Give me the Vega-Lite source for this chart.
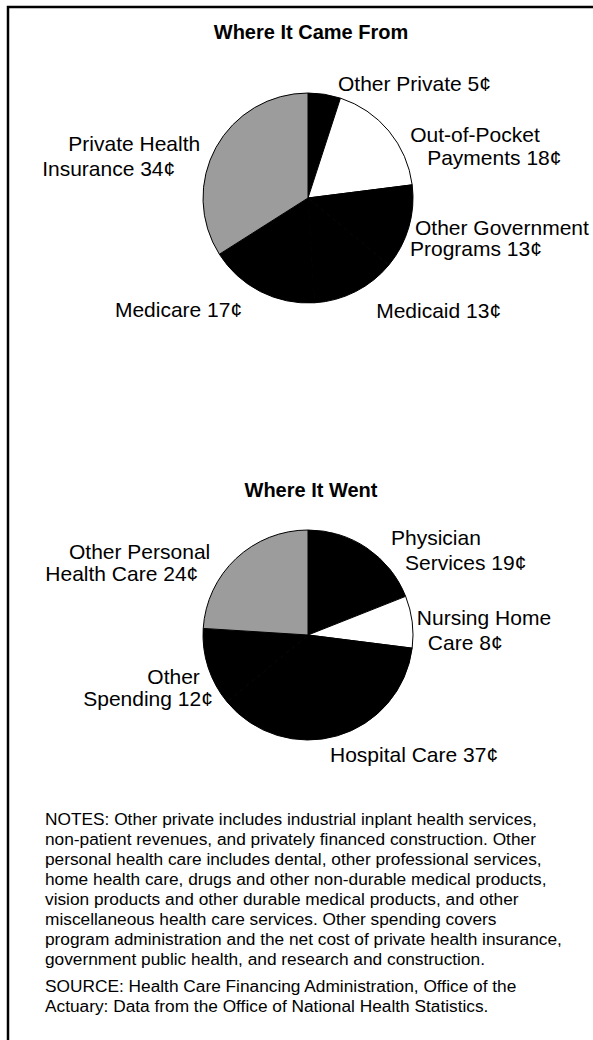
{
  "$schema": "https://vega.github.io/schema/vega-lite/v6.json",
  "width": 593,
  "height": 1040,
  "autosize": {"type": "fit", "contains": "padding"},
  "padding": {"left": 8, "top": 7, "right": -15, "bottom": -15},
  "background": "white",
  "config": {
    "view": {"stroke": "black", "strokeWidth": 2.5},
    "font": "Liberation Sans",
    "text": {"font": "Liberation Sans", "color": "black", "fontSize": 21, "baseline": "middle"}
  },
  "title": {
    "text": [
      "NOTES: Other private includes industrial inplant health services,",
      "non-patient revenues, and privately financed construction. Other",
      "personal health care includes dental, other professional services,",
      "home health care, drugs and other non-durable medical products,",
      "vision products and other durable medical products, and other",
      "miscellaneous health care services. Other spending covers",
      "program administration and the net cost of private health insurance,",
      "government public health, and research and construction."
    ],
    "subtitle": [
      "SOURCE: Health Care Financing Administration, Office of the",
      "Actuary: Data from the Office of National Health Statistics."
    ],
    "orient": "bottom",
    "anchor": "start",
    "frame": "group",
    "align": "left",
    "baseline": "top",
    "dx": 37,
    "offset": -244,
    "font": "Liberation Sans",
    "fontSize": 17.3,
    "fontWeight": "normal",
    "color": "black",
    "lineHeight": 20,
    "subtitleFont": "Liberation Sans",
    "subtitleFontSize": 17.3,
    "subtitleColor": "black",
    "subtitleLineHeight": 20,
    "subtitlePadding": 10
  },
  "datasets": {
    "segments": [
      {"pie": "from", "seq": 1, "seg": "Other Private", "cents": 5, "label1": "Other Private 5¢", "label2": ""},
      {"pie": "from", "seq": 2, "seg": "Out-of-Pocket Payments", "cents": 18, "label1": "Out-of-Pocket", "label2": "Payments 18¢"},
      {"pie": "from", "seq": 3, "seg": "Other Government Programs", "cents": 13, "label1": "Other Government", "label2": "Programs 13¢"},
      {"pie": "from", "seq": 4, "seg": "Medicaid", "cents": 13, "label1": "Medicaid 13¢", "label2": ""},
      {"pie": "from", "seq": 5, "seg": "Medicare", "cents": 17, "label1": "Medicare 17¢", "label2": ""},
      {"pie": "from", "seq": 6, "seg": "Private Health Insurance", "cents": 34, "label1": "Private Health", "label2": "Insurance 34¢"},
      {"pie": "went", "seq": 1, "seg": "Physician Services", "cents": 19, "label1": "Physician", "label2": "Services 19¢"},
      {"pie": "went", "seq": 2, "seg": "Nursing Home Care", "cents": 8, "label1": "Nursing Home", "label2": "Care 8¢"},
      {"pie": "went", "seq": 3, "seg": "Hospital Care", "cents": 37, "label1": "Hospital Care 37¢", "label2": ""},
      {"pie": "went", "seq": 4, "seg": "Other Spending", "cents": 12, "label1": "Other", "label2": "Spending 12¢"},
      {"pie": "went", "seq": 5, "seg": "Other Personal Health Care", "cents": 24, "label1": "Other Personal", "label2": "Health Care 24¢"}
    ],
    "headings": [
      {"pie": "from", "heading": "Where It Came From"},
      {"pie": "went", "heading": "Where It Went"}
    ]
  },
  "data": {"name": "segments"},
  "transform": [
    {"stack": "cents", "groupby": ["pie"], "sort": [{"field": "seq", "order": "ascending"}], "as": ["c0", "c1"]}
  ],
  "encoding": {
    "y": {"field": "pie", "type": "nominal", "scale": {"type": "point", "domain": ["from", "went"], "range": [191, 628], "padding": 0}, "axis": null}
  },
  "layer": [
    {
      "mark": {"type": "arc", "outerRadius": 105, "stroke": "black", "strokeWidth": 1},
      "encoding": {
        "theta": {"field": "c0", "type": "quantitative", "scale": {"domain": [0, 100]}},
        "theta2": {"field": "c1"},
        "fill": {
          "field": "seg", "type": "nominal", "legend": null,
          "scale": {
            "domain": ["Other Private", "Out-of-Pocket Payments", "Other Government Programs", "Medicaid", "Medicare", "Private Health Insurance", "Physician Services", "Nursing Home Care", "Hospital Care", "Other Spending", "Other Personal Health Care"],
            "range": ["#000000", "#ffffff", "#000000", "#000000", "#000000", "#9c9c9c", "#000000", "#ffffff", "#000000", "#000000", "#9c9c9c"]
          }
        }
      }
    },
    {
      "data": {"name": "headings"},
      "transform": [{"filter": "datum.pie === 'from'"}],
      "mark": {"type": "text", "fontSize": 20, "fontWeight": "bold", "align": "center", "baseline": "middle", "dx": 3, "dy": -165.5},
      "encoding": {"text": {"field": "heading", "type": "nominal"}}
    },
    {
      "data": {"name": "headings"},
      "transform": [{"filter": "datum.pie === 'went'"}],
      "mark": {"type": "text", "fontSize": 20, "fontWeight": "bold", "align": "center", "baseline": "middle", "dx": 3, "dy": -144},
      "encoding": {"text": {"field": "heading", "type": "nominal"}}
    },
    {
      "transform": [{"filter": "datum.seg === 'Other Private'"}],
      "mark": {"type": "text", "radius": 130, "align": "left", "dx": 30, "dy": 17},
      "encoding": {"theta": {"field": "c0", "type": "quantitative", "scale": {"domain": [0, 100]}}, "text": {"field": "label1", "type": "nominal"}}
    },
    {
      "transform": [{"filter": "datum.seg === 'Out-of-Pocket Payments'"}],
      "mark": {"type": "text", "radius": 130, "align": "left", "dx": 62, "dy": 62},
      "encoding": {"theta": {"field": "c0", "type": "quantitative", "scale": {"domain": [0, 100]}}, "text": {"field": "label1", "type": "nominal"}}
    },
    {
      "transform": [{"filter": "datum.seg === 'Out-of-Pocket Payments'"}],
      "mark": {"type": "text", "radius": 130, "align": "left", "dx": 79, "dy": 85},
      "encoding": {"theta": {"field": "c0", "type": "quantitative", "scale": {"domain": [0, 100]}}, "text": {"field": "label2", "type": "nominal"}}
    },
    {
      "transform": [{"filter": "datum.seg === 'Other Government Programs'"}],
      "mark": {"type": "text", "radius": 130, "align": "left", "dx": -22, "dy": 47},
      "encoding": {"theta": {"field": "c0", "type": "quantitative", "scale": {"domain": [0, 100]}}, "text": {"field": "label1", "type": "nominal"}}
    },
    {
      "transform": [{"filter": "datum.seg === 'Other Government Programs'"}],
      "mark": {"type": "text", "radius": 130, "align": "left", "dx": -27, "dy": 68},
      "encoding": {"theta": {"field": "c0", "type": "quantitative", "scale": {"domain": [0, 100]}}, "text": {"field": "label2", "type": "nominal"}}
    },
    {
      "transform": [{"filter": "datum.seg === 'Medicaid'"}],
      "mark": {"type": "text", "radius": 130, "align": "left", "dx": -32, "dy": 31},
      "encoding": {"theta": {"field": "c0", "type": "quantitative", "scale": {"domain": [0, 100]}}, "text": {"field": "label1", "type": "nominal"}}
    },
    {
      "transform": [{"filter": "datum.seg === 'Medicare'"}],
      "mark": {"type": "text", "radius": 130, "align": "right", "dx": -74, "dy": -17},
      "encoding": {"theta": {"field": "c0", "type": "quantitative", "scale": {"domain": [0, 100]}}, "text": {"field": "label1", "type": "nominal"}}
    },
    {
      "transform": [{"filter": "datum.seg === 'Private Health Insurance'"}],
      "mark": {"type": "text", "radius": 130, "align": "right", "dx": 2, "dy": -123},
      "encoding": {"theta": {"field": "c0", "type": "quantitative", "scale": {"domain": [0, 100]}}, "text": {"field": "label1", "type": "nominal"}}
    },
    {
      "transform": [{"filter": "datum.seg === 'Private Health Insurance'"}],
      "mark": {"type": "text", "radius": 130, "align": "right", "dx": -23, "dy": -98},
      "encoding": {"theta": {"field": "c0", "type": "quantitative", "scale": {"domain": [0, 100]}}, "text": {"field": "label2", "type": "nominal"}}
    },
    {
      "transform": [{"filter": "datum.seg === 'Physician Services'"}],
      "mark": {"type": "text", "radius": 130, "align": "left", "dx": 83, "dy": 34},
      "encoding": {"theta": {"field": "c0", "type": "quantitative", "scale": {"domain": [0, 100]}}, "text": {"field": "label1", "type": "nominal"}}
    },
    {
      "transform": [{"filter": "datum.seg === 'Physician Services'"}],
      "mark": {"type": "text", "radius": 130, "align": "left", "dx": 97, "dy": 59},
      "encoding": {"theta": {"field": "c0", "type": "quantitative", "scale": {"domain": [0, 100]}}, "text": {"field": "label2", "type": "nominal"}}
    },
    {
      "transform": [{"filter": "datum.seg === 'Nursing Home Care'"}],
      "mark": {"type": "text", "radius": 130, "align": "left", "dx": -12, "dy": 32},
      "encoding": {"theta": {"field": "c0", "type": "quantitative", "scale": {"domain": [0, 100]}}, "text": {"field": "label1", "type": "nominal"}}
    },
    {
      "transform": [{"filter": "datum.seg === 'Nursing Home Care'"}],
      "mark": {"type": "text", "radius": 130, "align": "left", "dx": -1, "dy": 57},
      "encoding": {"theta": {"field": "c0", "type": "quantitative", "scale": {"domain": [0, 100]}}, "text": {"field": "label2", "type": "nominal"}}
    },
    {
      "transform": [{"filter": "datum.seg === 'Hospital Care'"}],
      "mark": {"type": "text", "radius": 130, "align": "left", "dx": -107, "dy": 105},
      "encoding": {"theta": {"field": "c0", "type": "quantitative", "scale": {"domain": [0, 100]}}, "text": {"field": "label1", "type": "nominal"}}
    },
    {
      "transform": [{"filter": "datum.seg === 'Other Spending'"}],
      "mark": {"type": "text", "radius": 130, "align": "right", "dx": -8, "dy": -40},
      "encoding": {"theta": {"field": "c0", "type": "quantitative", "scale": {"domain": [0, 100]}}, "text": {"field": "label1", "type": "nominal"}}
    },
    {
      "transform": [{"filter": "datum.seg === 'Other Spending'"}],
      "mark": {"type": "text", "radius": 130, "align": "right", "dx": 5, "dy": -18},
      "encoding": {"theta": {"field": "c0", "type": "quantitative", "scale": {"domain": [0, 100]}}, "text": {"field": "label2", "type": "nominal"}}
    },
    {
      "transform": [{"filter": "datum.seg === 'Other Personal Health Care'"}],
      "mark": {"type": "text", "radius": 130, "align": "right", "dx": 32, "dy": -74},
      "encoding": {"theta": {"field": "c0", "type": "quantitative", "scale": {"domain": [0, 100]}}, "text": {"field": "label1", "type": "nominal"}}
    },
    {
      "transform": [{"filter": "datum.seg === 'Other Personal Health Care'"}],
      "mark": {"type": "text", "radius": 130, "align": "right", "dx": 20, "dy": -52},
      "encoding": {"theta": {"field": "c0", "type": "quantitative", "scale": {"domain": [0, 100]}}, "text": {"field": "label2", "type": "nominal"}}
    }
  ]
}
